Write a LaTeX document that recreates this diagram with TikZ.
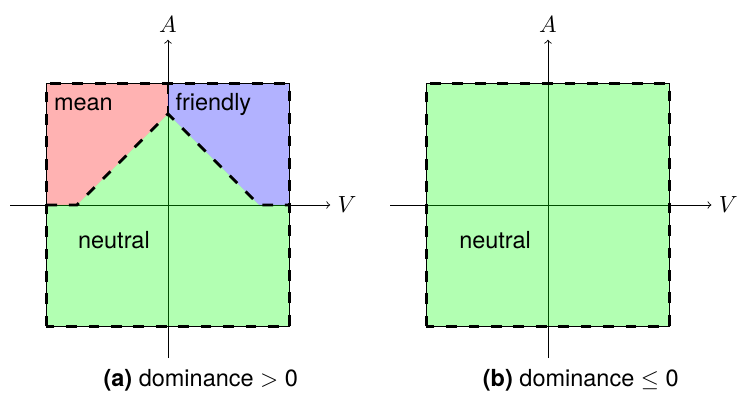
\documentclass[tikz,border=0pt]{standalone}
\usepackage{fontspec}
\setsansfont{TeX Gyre Heros}
\usetikzlibrary{calc}

\begin{document}
\begin{tikzpicture}[
  axis/.style={->, thin},
  region/.style={fill opacity=0.3, draw=none},
  border/.style={line width=1.3pt, dash pattern=on 5pt off 5.5pt},
  txt/.style={font=\sffamily\fontsize{11}{13}\selectfont}]

  \useasboundingbox (-2.765,-3.226) rectangle (9.416,3.374);

  % ----- (a) dominance > 0 -----
  \coordinate (la-w) at (-2.6,0);
  \coordinate (la-e) at (2.67,0);
  \coordinate (la-s) at (0,-2.52);
  \coordinate (la-n) at (0,2.72);
  \draw[axis] (la-w) -- (la-e) node[right, txt] (la-V) {$V$};
  \draw[axis] (la-s) -- (la-n) node[above, txt] (la-A) {$A$};

  \fill[region, red]   (-2,2) -- (0,2) -- (0,1.5) -- (-1.5,0) -- (-2,0) -- cycle;
  \fill[region, blue]  (0,2) -- (2,2) -- (2,0) -- (1.5,0) -- (0,1.5) -- cycle;
  \fill[region, green] (-2,0) -- (-1.5,0) -- (0,1.5) -- (1.5,0) -- (2,0)
                       -- (2,-2) -- (-2,-2) -- cycle;

  \draw[thin] (-2,-2) rectangle (2,2);
  \draw[border] (-2,-2) rectangle (2,2);
  \draw[border] (-2,0) -- (-1.5,0) -- (0,1.5) -- (1.5,0) -- (2,0);
  \draw[border] (0,2) -- (0,1.5);

  \node[txt, anchor=west] at (-2,1.65) (la-mean) {mean};
  \node[txt, anchor=west] at (0,1.65) (la-friendly) {friendly};
  \node[txt] at (-0.89,-0.58) (la-neutral) {neutral};
  \node[txt] at (0.54,-2.88) (la-cap) {\textbf{(a)} dominance $>$ 0};

  % ----- (b) dominance <= 0 -----
  \begin{scope}[xshift=6.255cm]
    \coordinate (lb-w) at (-2.6,0);
    \coordinate (lb-e) at (2.69,0);
    \coordinate (lb-s) at (0,-2.52);
    \coordinate (lb-n) at (0,2.72);
    \draw[axis] (lb-w) -- (lb-e) node[right, txt] (lb-V) {$V$};
    \draw[axis] (lb-s) -- (lb-n) node[above, txt] (lb-A) {$A$};

    \fill[region, green] (-2,-2) rectangle (2,2);

    \draw[thin] (-2,-2) rectangle (2,2);
    \draw[border] (-2,-2) rectangle (2,2);

    \node[txt] at (-0.87,-0.58) (lb-neutral) {neutral};
    \node[txt] at (0.54,-2.88) (lb-cap) {\textbf{(b)} dominance $\leq$ 0};
  \end{scope}

\end{tikzpicture}
\end{document}
